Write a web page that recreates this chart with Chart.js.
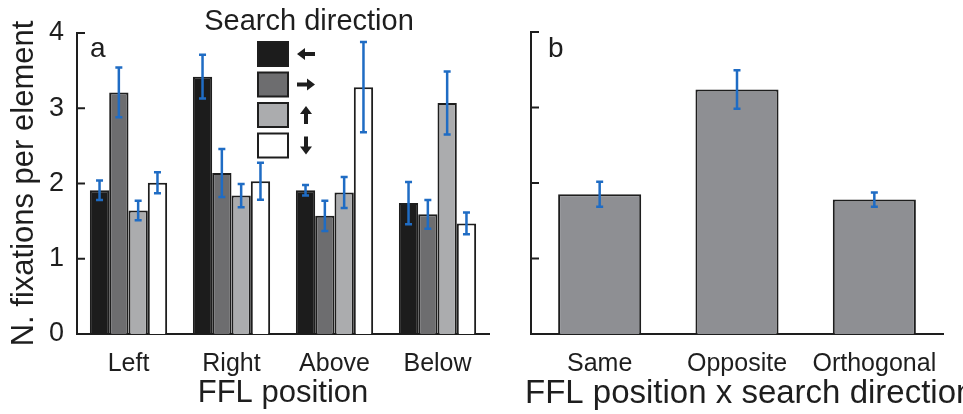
<!DOCTYPE html>
<html>
<head>
<meta charset="utf-8">
<script src="https://cdn.jsdelivr.net/npm/chart.js@4.4.0/dist/chart.umd.min.js"></script>
<style>
  body { margin: 0; background: #fff; width: 963px; height: 414px; overflow: hidden; position: relative; }
  .wrap { position: absolute; top: 0; height: 414px; }
  #wa { left: 0; width: 500px; }
  #wb { left: 490px; width: 473px; }
</style>
</head>
<body>
<div class="wrap" id="wa"><canvas id="chartA"></canvas></div>
<div class="wrap" id="wb"><canvas id="chartB"></canvas></div>
<script>
// panel a
let positions = ['Left', 'Right', 'Above', 'Below']
let dirLeft = [1.91, 3.42, 1.91, 1.74]
let dirRight = [3.21, 2.14, 1.57, 1.59]
let dirUp = [1.64, 1.84, 1.88, 3.07]
let dirDown = [2.01, 2.03, 3.28, 1.47]
let errLeft = [0.13, 0.29, 0.07, 0.28]
let errRight = [0.33, 0.32, 0.2, 0.19]
let errUp = [0.13, 0.155, 0.205, 0.42]
let errDown = [0.14, 0.245, 0.6, 0.145]

// panel b
let relations = ['Same', 'Opposite', 'Orthogonal']
let relValues = [1.85, 3.24, 1.78]
let relErr = [0.165, 0.255, 0.095]

let yTicks = [0, 1, 2, 3, 4]

const FONT = '"Liberation Sans", Arial, sans-serif'
const INK = '#1e1e1e'

// error bars + inward y ticks
const errorBars = {
  id: 'errorBars',
  afterDatasetsDraw(chart) {
    const ctx = chart.ctx
    const y = chart.scales.y
    ctx.save()
    ctx.strokeStyle = '#1f6cc4'
    ctx.lineWidth = 2.5
    chart.data.datasets.forEach((ds, i) => {
      const meta = chart.getDatasetMeta(i)
      meta.data.forEach((bar, j) => {
        const e = ds.err[j]
        const v = ds.data[j]
        const top = y.getPixelForValue(v + e)
        const bot = y.getPixelForValue(v - e)
        ctx.beginPath()
        ctx.moveTo(bar.x, top); ctx.lineTo(bar.x, bot)
        ctx.moveTo(bar.x - 3.5, top); ctx.lineTo(bar.x + 3.5, top)
        ctx.moveTo(bar.x - 3.5, bot); ctx.lineTo(bar.x + 3.5, bot)
        ctx.stroke()
      })
    })
    // ticks pointing into the plot
    ctx.strokeStyle = INK
    ctx.lineWidth = 2
    yTicks.slice(1).forEach(t => {
      const py = y.getPixelForValue(t)
      ctx.beginPath()
      ctx.moveTo(chart.chartArea.left, py)
      ctx.lineTo(chart.chartArea.left + 8, py)
      ctx.stroke()
    })
    ctx.restore()
  }
}

function arrow(ctx, cx, cy, dir) {
  ctx.save()
  ctx.translate(cx, cy)
  ctx.rotate({left: 0, right: Math.PI, up: Math.PI / 2, down: -Math.PI / 2}[dir])
  ctx.beginPath()
  ctx.moveTo(-9, 0)
  ctx.lineTo(-1, -6)
  ctx.lineTo(-1, -2)
  ctx.lineTo(9, -2)
  ctx.lineTo(9, 2)
  ctx.lineTo(-1, 2)
  ctx.lineTo(-1, 6)
  ctx.closePath()
  ctx.fill()
  ctx.restore()
}

const panelA = {
  id: 'panelA',
  afterDraw(chart) {
    const ctx = chart.ctx
    ctx.save()
    ctx.fillStyle = INK
    ctx.textAlign = 'left'
    ctx.textBaseline = 'alphabetic'
    ctx.font = '28px ' + FONT
    ctx.fillText('a', 90, 57)
    ctx.textAlign = 'center'
    ctx.textBaseline = 'middle'
    ctx.font = '29px ' + FONT
    ctx.fillText('Search direction', 309, 22)
    const dirs = ['left', 'right', 'up', 'down']
    chart.data.datasets.forEach((ds, i) => {
      const top = 42 + i * 30.5
      ctx.fillStyle = ds.backgroundColor
      ctx.strokeStyle = INK
      ctx.lineWidth = 2
      ctx.fillRect(258, top, 30, 24)
      ctx.strokeRect(258, top, 30, 24)
      ctx.fillStyle = INK
      arrow(ctx, 306, top + 12, dirs[i])
    })
    ctx.restore()
  }
}

// panel b: letter and the axis title (the title runs past the figure edge,
// so it is drawn here instead of as a scale title, which gets squeezed)
const panelB = {
  id: 'panelB',
  afterDraw(chart) {
    const ctx = chart.ctx
    ctx.save()
    ctx.fillStyle = INK
    ctx.font = '28px ' + FONT
    ctx.fillText('b', 58, 57)
    ctx.font = '33px ' + FONT
    ctx.textBaseline = 'middle'
    ctx.fillText('FFL position x search direction', chart.chartArea.left - 6, 394)
    ctx.restore()
  }
}

function scales(yWidth, showLabels, xTitle) {
  return {
    x: {
      grid: { display: false },
      border: { display: true, color: INK, width: 2 },
      ticks: { color: INK, font: { family: FONT, size: 25 }, padding: 7, maxRotation: 0 },
      title: { display: !!xTitle, text: xTitle, color: INK, font: { family: FONT, size: 31 }, padding: { top: 0, bottom: 2 } },
      afterFit(s) { s.height = 80 }
    },
    y: {
      min: 0, max: 4,
      grid: { display: false },
      border: { display: true, color: INK, width: 2 },
      afterBuildTicks(s) { s.ticks = yTicks.map(v => ({ value: v })) },
      ticks: { display: showLabels, color: INK, font: { family: FONT, size: 27 }, padding: 5 },
      title: { display: showLabels, text: 'N. fixations per element', color: INK, font: { family: FONT, size: 31 }, padding: { top: 6, bottom: 0 } },
      afterFit(s) { s.width = yWidth }
    }
  }
}

Chart.defaults.animation = false

new Chart(document.getElementById('chartA'), {
  type: 'bar',
  data: {
    labels: positions,
    datasets: [
      { label: '←', data: dirLeft, err: errLeft, backgroundColor: '#1c1c1c' },
      { label: '→', data: dirRight, err: errRight, backgroundColor: '#6d6d6f' },
      { label: '↑', data: dirUp, err: errUp, backgroundColor: '#abacae' },
      { label: '↓', data: dirDown, err: errDown, backgroundColor: '#ffffff' }
    ].map(d => Object.assign(d, { borderColor: INK, borderWidth: 2, categoryPercentage: 0.75, barPercentage: 1 }))
  },
  options: {
    responsive: true,
    maintainAspectRatio: false,
    layout: { padding: { left: 0, right: 11, top: 33, bottom: 0 } },
    plugins: { legend: { display: false }, tooltip: { enabled: false } },
    scales: scales(77, true, 'FFL position')
  },
  plugins: [errorBars, panelA]
})

new Chart(document.getElementById('chartB'), {
  type: 'bar',
  data: {
    labels: relations,
    datasets: [
      { label: 'FFL position x search direction', data: relValues, err: relErr, backgroundColor: '#8e8f93',
        borderColor: INK, borderWidth: 2, categoryPercentage: 0.605, barPercentage: 1 }
    ]
  },
  options: {
    responsive: true,
    maintainAspectRatio: false,
    layout: { padding: { left: 0, right: 20, top: 32, bottom: 0 } },
    plugins: { legend: { display: false }, tooltip: { enabled: false } },
    scales: scales(41, false, '')
  },
  plugins: [errorBars, panelB]
})
</script>
</body>
</html>
